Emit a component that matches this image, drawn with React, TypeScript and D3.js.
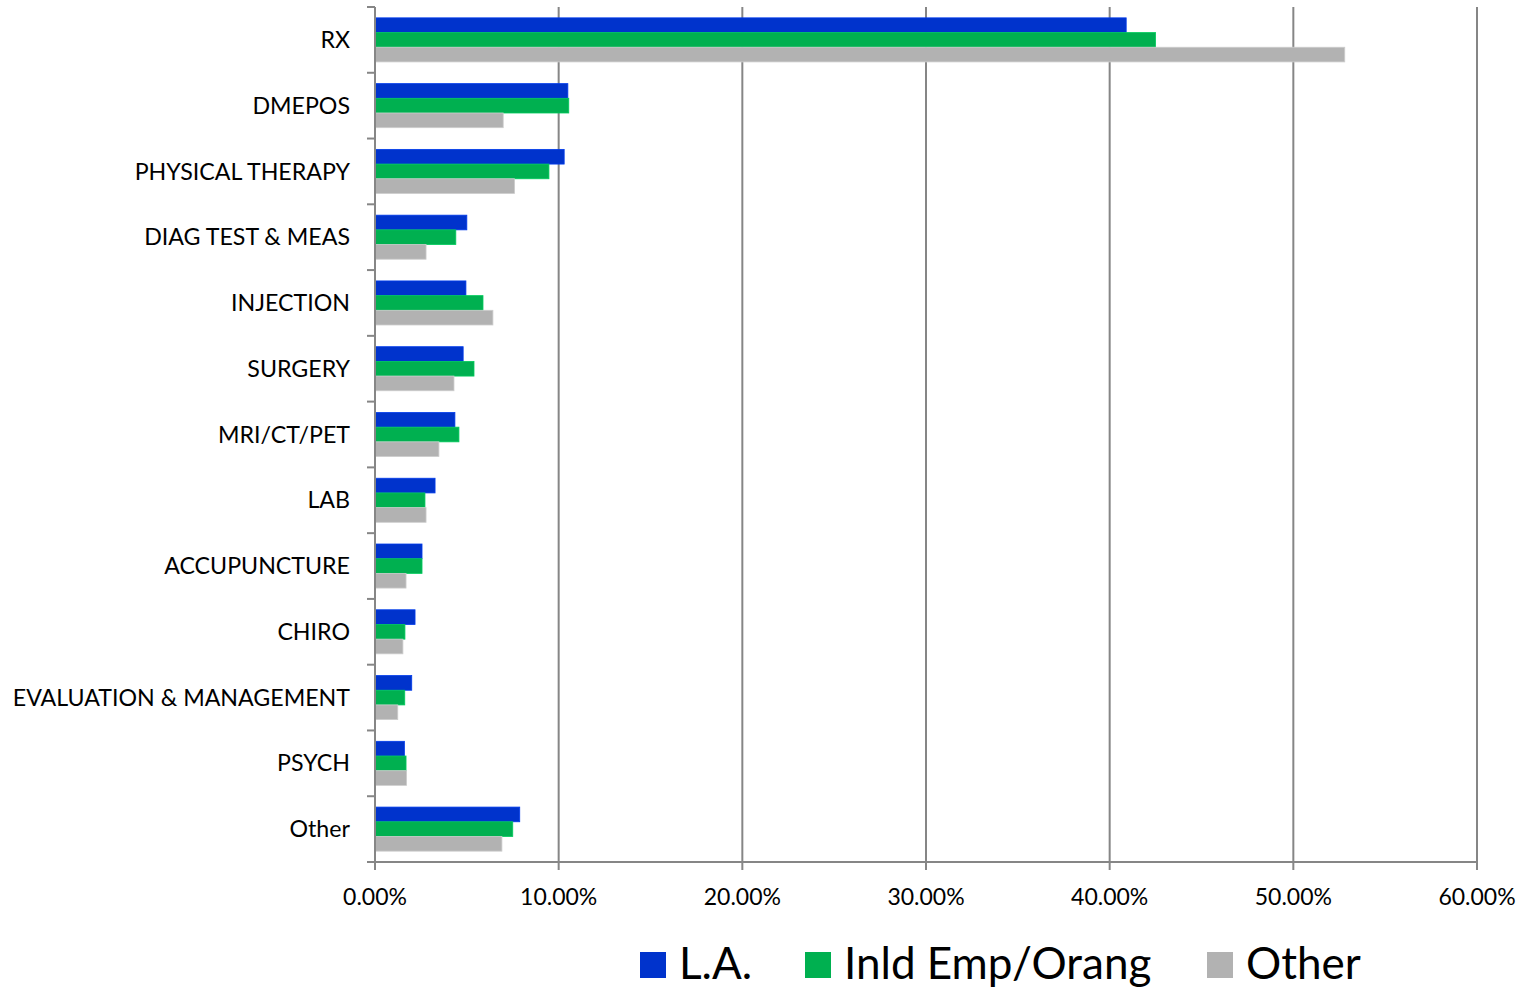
import { useEffect, useRef } from 'react'
import * as d3 from 'd3'

const categories = [
  'RX', 'DMEPOS', 'PHYSICAL THERAPY', 'DIAG TEST & MEAS', 'INJECTION', 'SURGERY',
  'MRI/CT/PET', 'LAB', 'ACCUPUNCTURE', 'CHIRO', 'EVALUATION & MANAGEMENT', 'PSYCH', 'Other',
]

const seriesNames = ['L.A.', 'Inld Emp/Orang', 'Other']

// percent values per category, same order as categories
const laValues = [40.9, 10.5, 10.3, 5.0, 4.95, 4.8, 4.35, 3.27, 2.56, 2.18, 2.0, 1.6, 7.88]
const inlandValues = [42.5, 10.55, 9.47, 4.4, 5.88, 5.39, 4.57, 2.72, 2.56, 1.63, 1.62, 1.69, 7.5]
const otherValues = [52.8, 6.98, 7.6, 2.78, 6.42, 4.3, 3.48, 2.78, 1.69, 1.52, 1.24, 1.72, 6.91]

const xTicks = [0, 10, 20, 30, 40, 50, 60]

const COLORS = ['#0033cc', '#00b050', '#b2b2b2']
const FONT = 'Lato, "Open Sans", sans-serif'

export default function App() {
  const svgRef = useRef<SVGSVGElement>(null)

  useEffect(() => {
    if (!svgRef.current) return
    const svg = d3.select(svgRef.current)
    svg.selectAll('*').remove()

    const left = 375, right = 1477, top = 7, bottom = 862
    const series = [laValues, inlandValues, otherValues]

    const x = d3.scaleLinear().domain([0, 60]).range([left, right])
    const y = d3.scaleBand<string>()
      .domain(categories)
      .range([top, bottom])
      .paddingInner(0.33)
      .paddingOuter(0.165)
    const ySub = d3.scaleBand<number>()
      .domain([0, 1, 2])
      .range([0, y.bandwidth()])

    // vertical gridlines
    svg.append('g')
      .selectAll('line')
      .data(xTicks.slice(1))
      .join('line')
      .attr('x1', d => x(d))
      .attr('x2', d => x(d))
      .attr('y1', top)
      .attr('y2', bottom)
      .attr('stroke', '#868686')
      .attr('stroke-width', 2)

    // bars
    categories.forEach((cat, i) => {
      series.forEach((vals, s) => {
        svg.append('rect')
          .attr('x', x(0))
          .attr('y', (y(cat) as number) + (ySub(s) as number))
          .attr('width', x(vals[i]) - x(0))
          .attr('height', ySub.bandwidth())
          .attr('fill', COLORS[s])
          .attr('stroke', d3.color(COLORS[s])!.brighter(0.4).formatHex())
          .attr('stroke-width', 0.8)
      })
    })

    // y axis line + ticks between categories
    svg.append('line')
      .attr('x1', left).attr('x2', left)
      .attr('y1', top).attr('y2', bottom)
      .attr('stroke', '#868686').attr('stroke-width', 2)
    const step = y.step()
    svg.append('g')
      .selectAll('line')
      .data(d3.range(categories.length + 1))
      .join('line')
      .attr('x1', left - 8)
      .attr('x2', left)
      .attr('y1', d => top + d * step)
      .attr('y2', d => top + d * step)
      .attr('stroke', '#868686').attr('stroke-width', 2)

    // x axis line + ticks
    svg.append('line')
      .attr('x1', left - 8).attr('x2', right)
      .attr('y1', bottom).attr('y2', bottom)
      .attr('stroke', '#868686').attr('stroke-width', 2)
    svg.append('g')
      .selectAll('line')
      .data(xTicks)
      .join('line')
      .attr('x1', d => x(d)).attr('x2', d => x(d))
      .attr('y1', bottom).attr('y2', bottom + 8)
      .attr('stroke', '#868686').attr('stroke-width', 2)

    // x tick labels
    svg.append('g')
      .selectAll('text')
      .data(xTicks)
      .join('text')
      .attr('x', d => x(d))
      .attr('y', 905)
      .attr('text-anchor', 'middle')
      .attr('font-family', FONT)
      .attr('font-size', 23)
      .attr('fill', '#000')
      .text(d => d3.format('.2f')(d) + '%')

    // category labels
    svg.append('g')
      .selectAll('text')
      .data(categories)
      .join('text')
      .attr('x', 350)
      .attr('y', d => (y(d) as number) + y.bandwidth() / 2)
      .attr('dy', '0.35em')
      .attr('text-anchor', 'end')
      .attr('font-family', FONT)
      .attr('font-size', 23.2)
      .attr('fill', '#000')
      .text(d => d)

    // legend
    const legendX = [640, 805, 1207]
    const lg = svg.append('g')
    seriesNames.forEach((name, i) => {
      lg.append('rect')
        .attr('x', legendX[i])
        .attr('y', 952)
        .attr('width', 26)
        .attr('height', 26)
        .attr('fill', COLORS[i])
      lg.append('text')
        .attr('x', legendX[i] + 39)
        .attr('y', 979)
        .attr('font-family', FONT)
        .attr('font-size', 44)
        .attr('fill', '#000')
        .text(name)
    })
  }, [])

  return (
    <div style={{ position: 'absolute', left: 0, top: 0 }}>
      <svg ref={svgRef} width={1526} height={987} style={{ display: 'block', background: '#fff' }} />
    </div>
  )
}
